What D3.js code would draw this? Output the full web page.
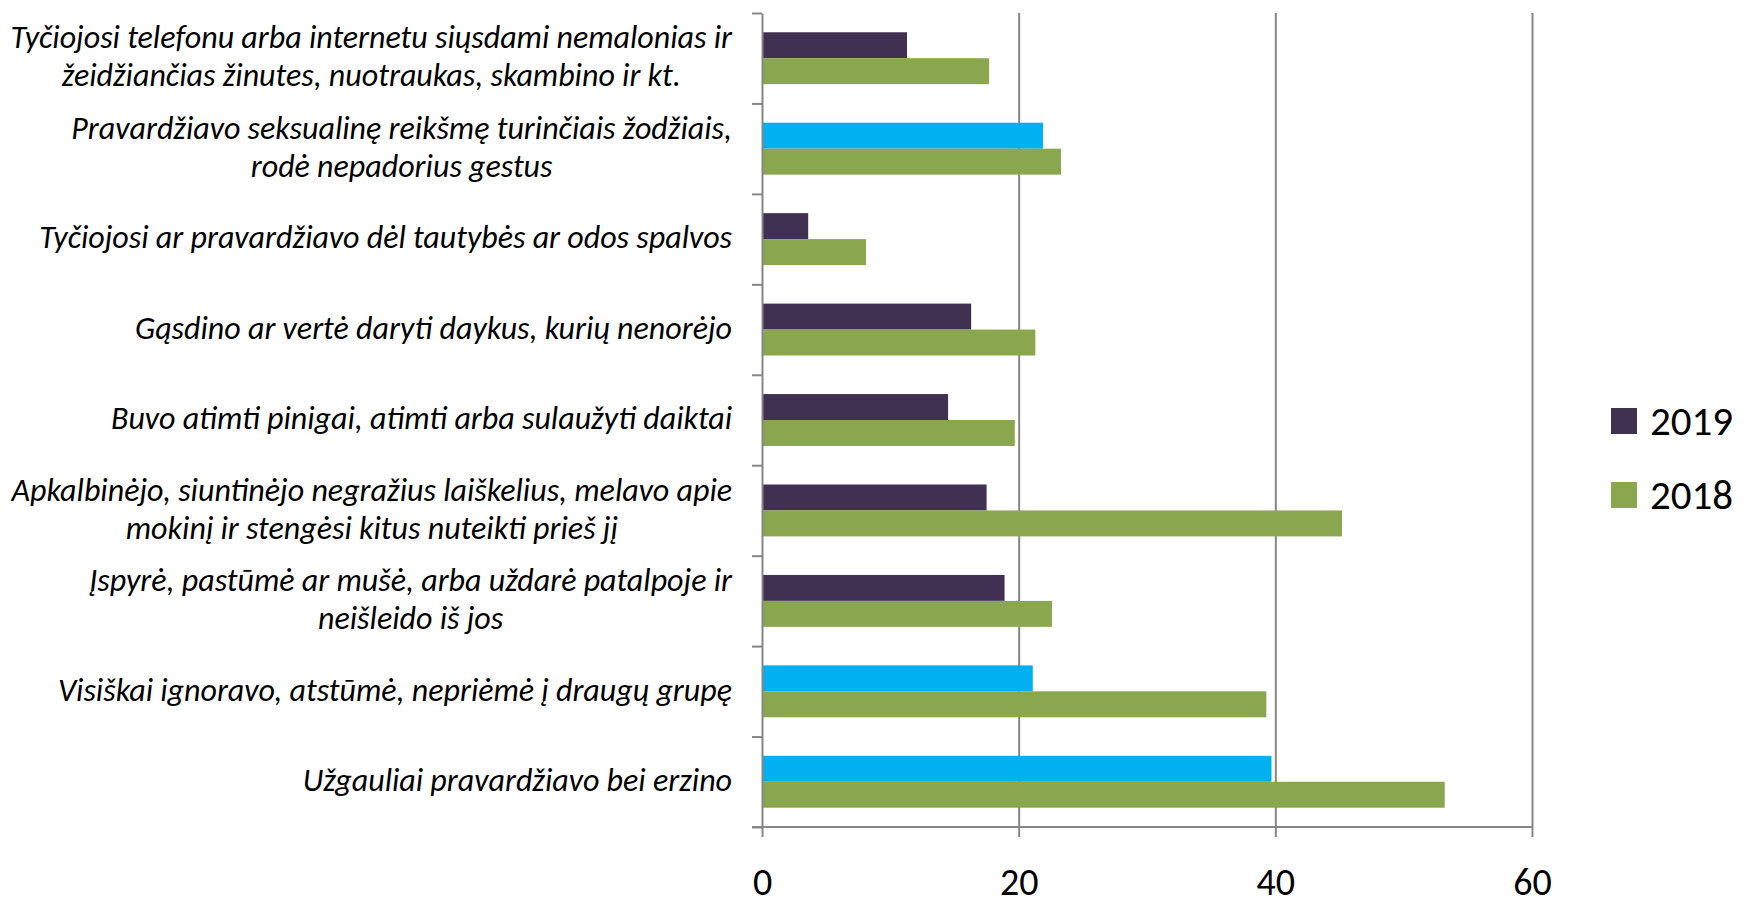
<!DOCTYPE html>
<html lang="lt">
<head>
  <meta charset="UTF-8">
  <title>Patyčios 2018–2019</title>
  <style>
      body { margin: 0; background: #fff; }
      .grid line { stroke: #868686; stroke-width: 2; }
      .grid path { stroke-width: 0; }
      .axis path, .axis line { stroke: #868686; stroke-width: 2; }
      .cat-label { font-family: "Carlito", "Lato", sans-serif; font-style: italic; font-size: 32px; fill: #000; }
      .tick-label { font-family: "Carlito", "Lato", sans-serif; font-size: 38px; fill: #000; }
      .legend-label { font-family: "Carlito", "Lato", sans-serif; font-size: 41px; fill: #000; }
  </style>
</head>
<body>
<div id="chart"></div>
<script src="https://d3js.org/d3.v7.min.js"></script>
<script>
  const categories = [
    "Tyčiojosi telefonu arba internetu siųsdami nemalonias ir\nžeidžiančias žinutes, nuotraukas, skambino ir kt.",
    "Pravardžiavo seksualinę reikšmę turinčiais žodžiais,\nrodė nepadorius gestus",
    "Tyčiojosi ar pravardžiavo dėl tautybės ar odos spalvos",
    "Gąsdino ar vertė daryti daykus, kurių nenorėjo",
    "Buvo atimti pinigai, atimti arba sulaužyti daiktai",
    "Apkalbinėjo, siuntinėjo negražius laiškelius, melavo apie\nmokinį ir stengėsi kitus nuteikti prieš jį",
    "Įspyrė, pastūmė ar mušė, arba uždarė patalpoje ir\nneišleido iš jos",
    "Visiškai ignoravo, atstūmė, nepriėmė į draugų grupę",
    "Užgauliai pravardžiavo bei erzino"
  ];
  const series = ["2019", "2018"];
  const values2019 = [11.3, 21.9, 3.6, 16.3, 14.5, 17.5, 18.9, 21.1, 39.7];
  const values2018 = [17.7, 23.3, 8.1, 21.3, 19.7, 45.2, 22.6, 39.3, 53.2];
  const highlight2019 = [false, true, false, false, false, false, false, true, true];
  const xTicks = [0, 20, 40, 60];

  const colors = {"2019": "#403152", "2018": "#8aa64e", highlight: "#00b0f0"};

  const W = 1750, H = 907;
  const margin = {top: 13, left: 762, right: 218, bottom: 80};
  const width = W - margin.left - margin.right,
        height = H - margin.top - margin.bottom;

  const svg = d3.select("#chart").append("svg")
    .attr("width", W)
    .attr("height", H);

  const g = svg.append("g")
    .attr("transform", `translate(${margin.left},${margin.top})`);

  const x = d3.scaleLinear()
    .domain([0, 60])
    .range([0, width]);

  const y0 = d3.scaleBand()
    .domain(categories)
    .range([0, height]);

  const pad = y0.bandwidth() * 0.213;
  const y1 = d3.scaleBand()
    .domain(series)
    .range([pad, y0.bandwidth() - pad]);

  const yEdges = d3.scaleLinear()
    .domain([0, categories.length])
    .range([0, height]);

  // vertical gridlines
  g.append("g")
    .attr("class", "grid")
    .attr("transform", `translate(0,${height})`)
    .call(d3.axisBottom(x).tickValues(xTicks.slice(1)).tickSize(-height).tickFormat(""));

  // bars
  const rows = categories.map((c, i) => ({
    cat: c,
    bars: [
      {s: "2019", v: values2019[i], hl: highlight2019[i]},
      {s: "2018", v: values2018[i], hl: false}
    ]
  }));

  const groups = g.selectAll(".cat")
    .data(rows)
    .enter().append("g")
    .attr("class", "cat")
    .attr("transform", d => `translate(0,${y0(d.cat)})`);

  groups.selectAll("rect")
    .data(d => d.bars)
    .enter().append("rect")
    .attr("x", 0)
    .attr("y", d => y1(d.s))
    .attr("width", d => x(d.v))
    .attr("height", y1.bandwidth())
    .attr("fill", d => d.hl ? colors.highlight : colors[d.s]);

  // y axis with ticks at band edges
  g.append("g")
    .attr("class", "axis")
    .call(d3.axisLeft(yEdges).tickValues(d3.range(categories.length + 1)).tickSize(10).tickSizeOuter(0).tickFormat(""));

  // x axis
  const xAxis = g.append("g")
    .attr("class", "axis")
    .attr("transform", `translate(0,${height})`)
    .call(d3.axisBottom(x).tickValues(xTicks).tickSize(10).tickSizeOuter(0));
  xAxis.select(".domain").attr("d", `M-10,0H${width}`);
  xAxis.selectAll("text")
    .attr("class", "tick-label")
    .attr("y", 68)
    .attr("dy", 0)
    .attr("font-size", null)
    .attr("font-family", null);

  // category labels: right aligned block, lines centred
  const labelRight = 732 - margin.left;
  const lineH = 38;
  categories.forEach(c => {
    const lines = c.split("\n");
    const t = g.append("text")
      .attr("class", "cat-label")
      .attr("text-anchor", "middle");
    const cy = y0(c) + y0.bandwidth() / 2 - 2;
    lines.forEach((ln, j) => {
      t.append("tspan")
        .attr("y", cy + (j - (lines.length - 1) / 2) * lineH)
        .attr("dy", "0.35em")
        .text(ln);
    });
    let maxW = 0;
    t.selectAll("tspan").each(function () {
      maxW = Math.max(maxW, this.getComputedTextLength());
    });
    t.selectAll("tspan").attr("x", labelRight - maxW / 2);
  });

  // legend
  const legend = svg.append("g")
    .attr("transform", "translate(1611,408)");
  series.forEach((s, i) => {
    const row = legend.append("g").attr("transform", `translate(0,${i * 74})`);
    row.append("rect")
      .attr("width", 26)
      .attr("height", 26)
      .attr("fill", colors[s]);
    row.append("text")
      .attr("class", "legend-label")
      .attr("x", 39)
      .attr("y", 27)
      .text(s);
  });
</script>
</body>
</html>
